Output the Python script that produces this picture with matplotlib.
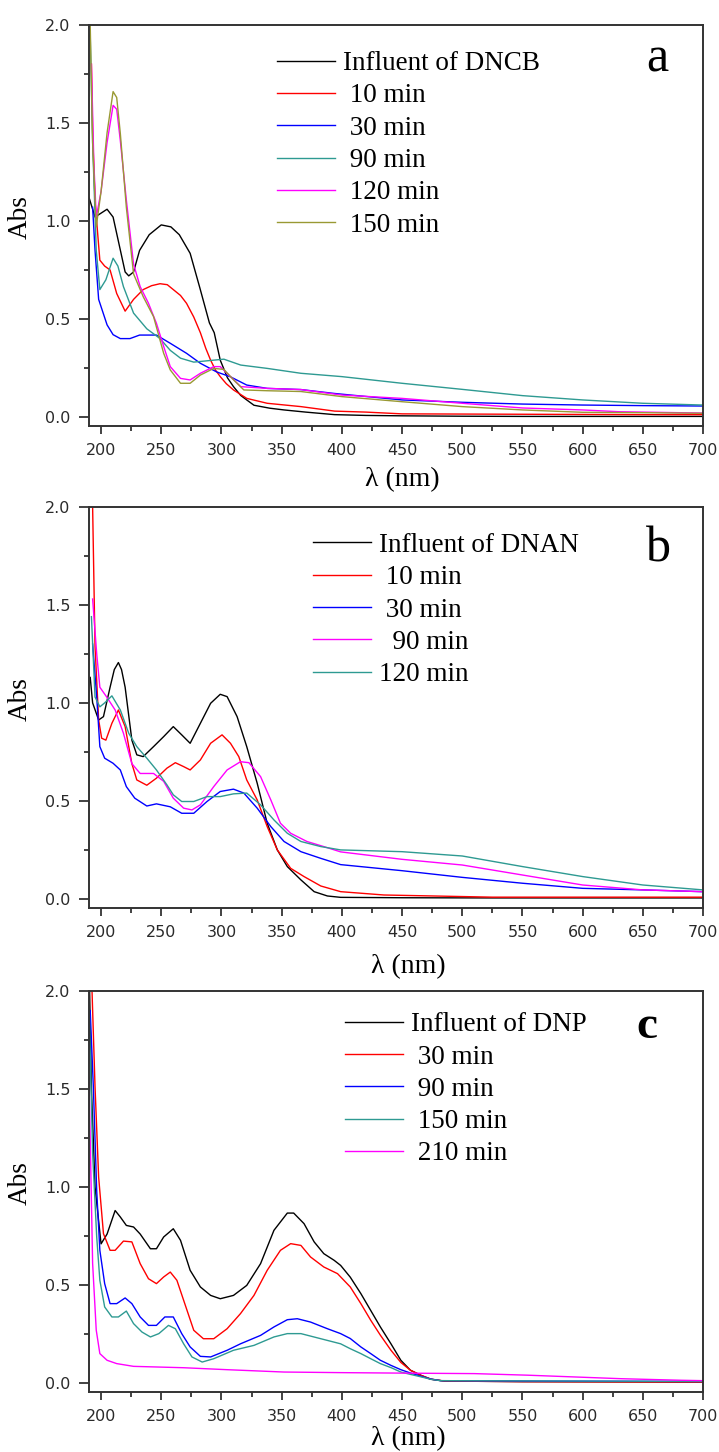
import matplotlib
matplotlib.use("Agg")
import matplotlib.pyplot as plt
from matplotlib.ticker import MultipleLocator

# ---------------- data ----------------
# Panel a: DNCB
a_inf_wl = [190, 192, 195, 200, 205, 210, 215, 220, 223, 227, 232, 240, 250, 258, 265, 274, 282, 290, 294, 299, 305, 310, 316, 321, 327, 340, 352, 370, 394, 420, 450, 500, 550, 600, 650, 700]
a_inf_ab = [1.12, 1.08, 1.02, 1.04, 1.06, 1.02, 0.88, 0.74, 0.72, 0.74, 0.85, 0.93, 0.98, 0.97, 0.93, 0.835, 0.66, 0.48, 0.43, 0.29, 0.2, 0.155, 0.11, 0.087, 0.06, 0.045, 0.036, 0.025, 0.012, 0.008, 0.006, 0.004, 0.003, 0.003, 0.003, 0.003]
a_10_wl = [192, 193, 195, 199, 203, 207.5, 213, 220, 227, 235, 242, 249, 255, 260, 266, 271, 277, 282.5, 287, 291, 295, 299, 304, 310, 321, 338, 366, 394, 420, 450, 500, 550, 600, 650, 700]
a_10_ab = [1.8, 1.45, 1.1, 0.8, 0.77, 0.75, 0.63, 0.54, 0.6, 0.65, 0.67, 0.68, 0.675, 0.65, 0.62, 0.58, 0.51, 0.43, 0.35, 0.29, 0.24, 0.206, 0.17, 0.138, 0.095, 0.07, 0.053, 0.03, 0.025, 0.016, 0.015, 0.014, 0.013, 0.012, 0.012]
a_30_wl = [193, 195, 198, 205, 210, 216, 224, 232, 246, 257.5, 271, 282.5, 296, 307.5, 321, 338, 366, 394, 450, 500, 550, 600, 650, 700]
a_30_ab = [1.07, 0.85, 0.6, 0.47, 0.42, 0.40, 0.40, 0.418, 0.418, 0.376, 0.325, 0.274, 0.23, 0.205, 0.163, 0.146, 0.14, 0.12, 0.087, 0.075, 0.066, 0.061, 0.058, 0.056]
a_90_wl = [191, 193, 196, 199, 204, 210, 214, 218.6, 227, 238, 249, 257.5, 266, 277, 293.6, 302, 316, 338, 366, 400, 450, 500, 550, 600, 650, 700]
a_90_ab = [1.95, 1.4, 0.85, 0.65, 0.7, 0.81, 0.77, 0.665, 0.53, 0.45, 0.40, 0.34, 0.30, 0.28, 0.29, 0.295, 0.265, 0.248, 0.223, 0.206, 0.172, 0.141, 0.109, 0.087, 0.07, 0.061]
a_120_wl = [192, 194, 196, 200, 205, 210, 213, 216, 221, 227, 232.5, 239.4, 246, 252, 257.5, 266, 274, 282.5, 293.6, 299, 307.5, 316, 338, 366, 400, 450, 500, 550, 600, 630, 700]
a_120_ab = [1.8, 1.3, 1.02, 1.15, 1.4, 1.59, 1.57, 1.41, 1.107, 0.78, 0.665, 0.58, 0.478, 0.36, 0.257, 0.197, 0.189, 0.223, 0.257, 0.257, 0.206, 0.155, 0.146, 0.14, 0.112, 0.095, 0.07, 0.046, 0.036, 0.027, 0.02]
a_150_wl = [191, 193, 196, 200, 205, 210, 213, 216, 221, 227, 235, 243.6, 252, 257.5, 266, 274, 282.5, 293.6, 302, 310, 318.6, 338, 366, 400, 450, 500, 550, 600, 650, 700]
a_150_ab = [2.0, 1.4, 0.97, 1.15, 1.45, 1.66, 1.63, 1.447, 1.07, 0.73, 0.614, 0.512, 0.325, 0.24, 0.172, 0.172, 0.214, 0.248, 0.243, 0.19, 0.138, 0.134, 0.13, 0.104, 0.078, 0.053, 0.036, 0.024, 0.022, 0.019]

# Panel b: DNAN
b_inf_wl = [191, 193, 198, 202, 207.5, 211, 214.4, 217, 220, 225.6, 229.7, 235, 243.6, 252, 260, 267, 274, 282.5, 291, 299, 304.7, 313, 321, 329.7, 338, 346.4, 354.7, 366, 377, 388, 399, 450, 525, 600, 700]
b_inf_ab = [1.13, 1.0, 0.913, 0.93, 1.08, 1.17, 1.206, 1.17, 1.08, 0.81, 0.735, 0.726, 0.777, 0.828, 0.879, 0.837, 0.794, 0.896, 0.998, 1.044, 1.032, 0.93, 0.777, 0.59, 0.386, 0.25, 0.165, 0.097, 0.037, 0.015, 0.008, 0.006, 0.005, 0.005, 0.005]
b_10_wl = [193, 195, 198, 200.5, 204, 209, 214.4, 220, 225.6, 229.7, 238, 246, 254.7, 261.7, 268.6, 274, 282.5, 291, 300.5, 307.5, 314.4, 321, 329.7, 338, 346.4, 357.5, 368.6, 382.5, 399, 435, 525, 700]
b_10_ab = [2.0, 1.287, 0.913, 0.82, 0.81, 0.896, 0.964, 0.879, 0.69, 0.607, 0.58, 0.616, 0.667, 0.695, 0.675, 0.658, 0.709, 0.794, 0.837, 0.794, 0.726, 0.607, 0.505, 0.369, 0.25, 0.156, 0.114, 0.066, 0.037, 0.02, 0.009, 0.009]
b_30_wl = [193, 196.4, 199, 203, 210, 216, 221, 228, 238, 246, 257.5, 267, 277, 288, 299, 310, 318.6, 329.7, 341, 352, 366, 382.5, 399, 450, 500, 550, 600, 650, 700]
b_30_ab = [1.3, 1.03, 0.777, 0.718, 0.692, 0.658, 0.573, 0.514, 0.474, 0.485, 0.47, 0.437, 0.437, 0.497, 0.548, 0.56, 0.54, 0.463, 0.369, 0.293, 0.241, 0.207, 0.175, 0.144, 0.11, 0.08, 0.054, 0.046, 0.037]
b_90_wl = [193, 196.4, 199, 204.7, 211.7, 218.6, 225.6, 232.5, 243.6, 252, 260, 268.6, 275.5, 282.5, 293.6, 304.7, 315.8, 322.8, 332.5, 341, 349, 357.5, 371, 385, 399, 450, 500, 550, 600, 650, 700]
b_90_ab = [1.53, 1.25, 1.08, 1.03, 0.964, 0.845, 0.69, 0.64, 0.64, 0.6, 0.514, 0.463, 0.454, 0.48, 0.573, 0.658, 0.7, 0.695, 0.624, 0.505, 0.386, 0.335, 0.293, 0.267, 0.24, 0.202, 0.173, 0.122, 0.071, 0.046, 0.037]
b_120_wl = [192, 195, 199, 203, 209, 216, 223, 229.7, 238, 246, 254.7, 260, 267, 277, 288, 299, 310, 321, 332.5, 343.6, 354.7, 366, 382.5, 399, 450, 500, 550, 600, 650, 700]
b_120_ab = [1.44, 1.03, 0.98, 1.0, 1.036, 0.964, 0.845, 0.777, 0.718, 0.658, 0.582, 0.531, 0.497, 0.497, 0.522, 0.522, 0.536, 0.54, 0.48, 0.403, 0.335, 0.293, 0.267, 0.25, 0.241, 0.219, 0.165, 0.114, 0.071, 0.046]

# Panel c: DNP
c_inf_wl = [190.5, 192, 195, 200, 205, 211.7, 216, 221, 227, 232.5, 241, 246, 252, 260, 266, 274, 282.5, 291, 299, 310, 321, 332.5, 343.6, 354.7, 360, 368.6, 377, 385, 393.6, 399, 407, 415.8, 424, 432, 440.8, 449, 457, 465.8, 474, 485, 550, 700]
c_inf_ab = [2.0, 1.5, 1.0, 0.71, 0.76, 0.88, 0.847, 0.804, 0.796, 0.76, 0.685, 0.685, 0.745, 0.787, 0.728, 0.575, 0.49, 0.447, 0.43, 0.447, 0.498, 0.609, 0.779, 0.867, 0.867, 0.813, 0.72, 0.66, 0.626, 0.6, 0.54, 0.456, 0.37, 0.286, 0.2, 0.116, 0.065, 0.039, 0.019, 0.01, 0.007, 0.005]
c_30_wl = [192.5, 195, 198, 202, 207.5, 211.7, 218.6, 225.6, 232.5, 239.4, 246, 252, 257.5, 263, 268.6, 277, 285, 293.6, 304.7, 315.8, 327, 338, 349, 357.5, 366, 374, 385, 396.4, 407, 415.8, 424, 432, 440.8, 449, 457, 465.8, 474, 485, 550, 700]
c_30_ab = [2.0, 1.51, 1.05, 0.762, 0.677, 0.677, 0.724, 0.72, 0.609, 0.532, 0.507, 0.541, 0.566, 0.524, 0.422, 0.269, 0.226, 0.226, 0.277, 0.354, 0.447, 0.575, 0.677, 0.711, 0.702, 0.643, 0.592, 0.558, 0.49, 0.405, 0.32, 0.244, 0.167, 0.105, 0.065, 0.039, 0.02, 0.01, 0.007, 0.005]
c_90_wl = [191, 193.6, 196.4, 199, 203, 207.5, 213, 220, 225.6, 232.5, 239.4, 246, 253, 260, 267, 274, 282.5, 291, 304.7, 315.8, 332.5, 343.6, 354.7, 363, 374, 388, 399, 407, 415.8, 424, 432, 440.8, 449, 457, 466, 474, 482, 550, 700]
c_90_ab = [1.9, 1.51, 0.98, 0.677, 0.507, 0.405, 0.405, 0.434, 0.405, 0.337, 0.294, 0.294, 0.337, 0.337, 0.252, 0.184, 0.136, 0.133, 0.167, 0.2, 0.243, 0.286, 0.323, 0.328, 0.311, 0.277, 0.252, 0.227, 0.184, 0.15, 0.116, 0.09, 0.068, 0.051, 0.034, 0.02, 0.012, 0.01, 0.008]
c_150_wl = [190, 193, 196.4, 199, 203, 209, 214.4, 221, 227, 234, 241, 248, 256, 261.7, 268.6, 275.5, 284, 293.6, 310, 327, 343.6, 354.7, 366, 382.5, 399, 407, 415.8, 424, 432, 441, 449, 457, 466, 474, 482, 700]
c_150_ab = [1.95, 1.17, 0.745, 0.524, 0.388, 0.337, 0.337, 0.367, 0.303, 0.26, 0.235, 0.252, 0.294, 0.277, 0.2, 0.133, 0.107, 0.124, 0.167, 0.192, 0.235, 0.252, 0.252, 0.226, 0.2, 0.175, 0.15, 0.124, 0.099, 0.078, 0.056, 0.044, 0.031, 0.019, 0.012, 0.008]
c_210_wl = [190, 193, 196, 199, 205, 213, 227, 268.6, 304.7, 352, 399, 460, 510, 554, 632, 682, 700]
c_210_ab = [1.56, 0.61, 0.27, 0.15, 0.116, 0.099, 0.085, 0.078, 0.068, 0.056, 0.053, 0.05, 0.048, 0.04, 0.022, 0.014, 0.012]

labels_a = ["Influent of DNCB", " 10 min", " 30 min", " 90 min", " 120 min", " 150 min"]
labels_b = ["Influent of DNAN", " 10 min", " 30 min", "  90 min", "120 min"]
labels_c = ["Influent of DNP", " 30 min", " 90 min", " 150 min", " 210 min"]

x_ticks = [200, 250, 300, 350, 400, 450, 500, 550, 600, 650, 700]
y_ticks = [0.0, 0.5, 1.0, 1.5, 2.0]

BLACK, RED, BLUE, TEAL, MAG, OLIVE = "#000000", "#ff0000", "#0000ff", "#2e9a92", "#ff00ff", "#999933"

panels = [
    dict(series=[(a_inf_wl, a_inf_ab, BLACK), (a_10_wl, a_10_ab, RED), (a_30_wl, a_30_ab, BLUE),
                 (a_90_wl, a_90_ab, TEAL), (a_120_wl, a_120_ab, MAG), (a_150_wl, a_150_ab, OLIVE)],
         labels=labels_a, pos=[0.1238, 0.7066, 0.854, 0.2762], leg=(0.306, 0.935),
         letter="a", lpos=(0.925, 0.883), lweight="normal", xlab=(0.51, -0.102)),
    dict(series=[(b_inf_wl, b_inf_ab, BLACK), (b_10_wl, b_10_ab, RED), (b_30_wl, b_30_ab, BLUE),
                 (b_90_wl, b_90_ab, MAG), (b_120_wl, b_120_ab, TEAL)],
         labels=labels_b, pos=[0.1238, 0.3747, 0.854, 0.2762], leg=(0.365, 0.935),
         letter="b", lpos=(0.927, 0.864), lweight="normal", xlab=(0.52, -0.114)),
    dict(series=[(c_inf_wl, c_inf_ab, BLACK), (c_30_wl, c_30_ab, RED), (c_90_wl, c_90_ab, BLUE),
                 (c_150_wl, c_150_ab, TEAL), (c_210_wl, c_210_ab, MAG)],
         labels=labels_c, pos=[0.1238, 0.0413, 0.854, 0.2762], leg=(0.417, 0.947),
         letter="c", lpos=(0.908, 0.884), lweight="bold", xlab=(0.52, -0.084)),
]

fig = plt.figure(figsize=(7.19, 14.52), dpi=100)
SERIF = ["Liberation Serif", "DejaVu Serif"]

for p in panels:
    ax = fig.add_axes(p["pos"])
    for (wl, ab, col), lab in zip(p["series"], p["labels"]):
        ax.plot(wl, ab, color=col, lw=1.0, label=lab)
    ax.set_xlim(190, 700)
    ax.set_ylim(-0.046, 2.0)
    ax.set_xticks(x_ticks)
    ax.set_yticks(y_ticks)
    ax.set_yticklabels([f"{v:.1f}" for v in y_ticks])
    ax.xaxis.set_minor_locator(MultipleLocator(25))
    ax.yaxis.set_minor_locator(MultipleLocator(0.25))
    ax.tick_params(axis="x", which="major", direction="out", length=6, width=1.2, pad=6,
                   labelsize=11.5, labelcolor="#2a2a2a", color="#222222")
    ax.tick_params(axis="y", which="major", direction="out", length=7.5, width=1.2, pad=6,
                   labelsize=11.5, labelcolor="#2a2a2a", color="#222222")
    ax.tick_params(which="minor", direction="out", length=3.5, width=1.2, color="#222222")
    for s in ax.spines.values():
        s.set_linewidth(1.4)
        s.set_color("#333333")
    ax.set_ylabel("Abs", fontsize=19.5, family=SERIF)
    ax.yaxis.set_label_coords(-0.091, 0.52)
    ax.set_xlabel("λ (nm)", fontsize=20, family=SERIF, va="top")
    ax.xaxis.set_label_coords(*p["xlab"])
    ax.legend(loc="upper left", bbox_to_anchor=p["leg"], frameon=False,
              prop={"family": SERIF, "size": 19.5}, handlelength=2.15,
              handletextpad=0.3, labelspacing=0.27, borderpad=0, borderaxespad=0)
    ax.text(p["lpos"][0], p["lpos"][1], p["letter"], transform=ax.transAxes,
            fontsize=36 if p["lweight"] == "normal" else 34, fontweight=p["lweight"],
            family=SERIF, ha="center", va="baseline")

fig.savefig("out.png", dpi=100)
